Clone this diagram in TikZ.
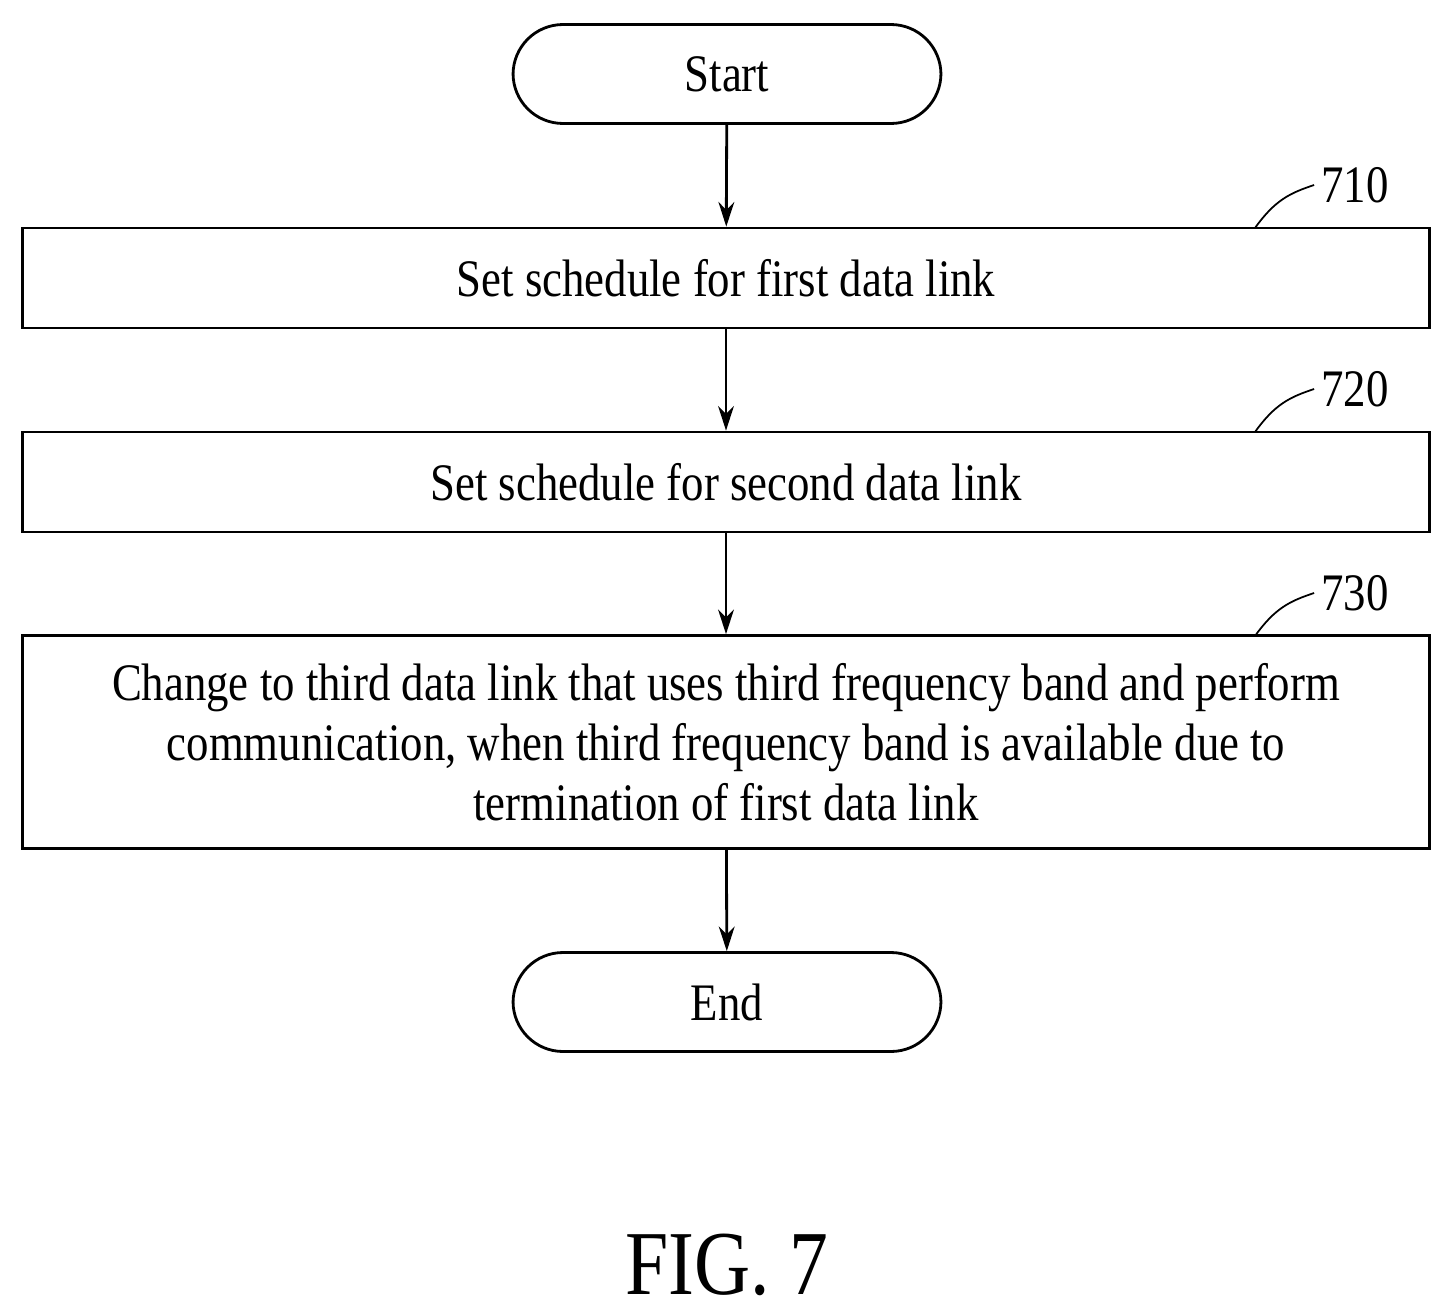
\documentclass[tikz,border=0pt]{standalone}
\usepackage{fontspec}
\setmainfont[FakeStretch=0.85]{Liberation Serif}
\usetikzlibrary{arrows.meta,positioning}
\begin{document}
\begin{tikzpicture}[x=0.02cm,y=-0.02cm,line width=1.6pt,
    font=\fontsize{30}{34}\selectfont,
    term/.style={draw,rounded corners=1cm,minimum width=8.56cm,minimum height=1.98cm},
    stepbox/.style={draw,minimum width=28.16cm,minimum height=2cm,align=center},
    flow/.style={-{Stealth[length=14pt,width=9pt]}}]
  \useasboundingbox (0,0) rectangle (1453,1315);
  \node [term] (start) at (727,74)   {Start};
  \node [stepbox] (s710)  at (726,278)  {Set schedule for first data link};
  \node [stepbox] (s720)  at (726,482)  {Set schedule for second data link};
  \node [stepbox,minimum height=4.26cm] (s730) at (726,742)
    {Change to third data link that uses third frequency band and perform\\
     communication, when third frequency band is available due to\\
     termination of first data link};
  \node [term] (end)   at (727,1002) {End};
  \node (fig) at (727,1265) {\fontsize{52}{60}\selectfont FIG. 7};
  % reference numerals
  \foreach \n/\y in {710/185,720/389,730/593}{
    \node (l\n) at (1355,\y) {\n};
    \draw [line width=1pt] (1255,\y+43) .. controls (1275,\y+15) and (1290,\y+8) .. (l\n.west);
  }
  \draw [flow] (start) -- (s710);
  \draw [flow] (s710) -- (s720);
  \draw [flow] (s720) -- (s730);
  \draw [flow] (s730) -- (end);
\end{tikzpicture}
\end{document}
